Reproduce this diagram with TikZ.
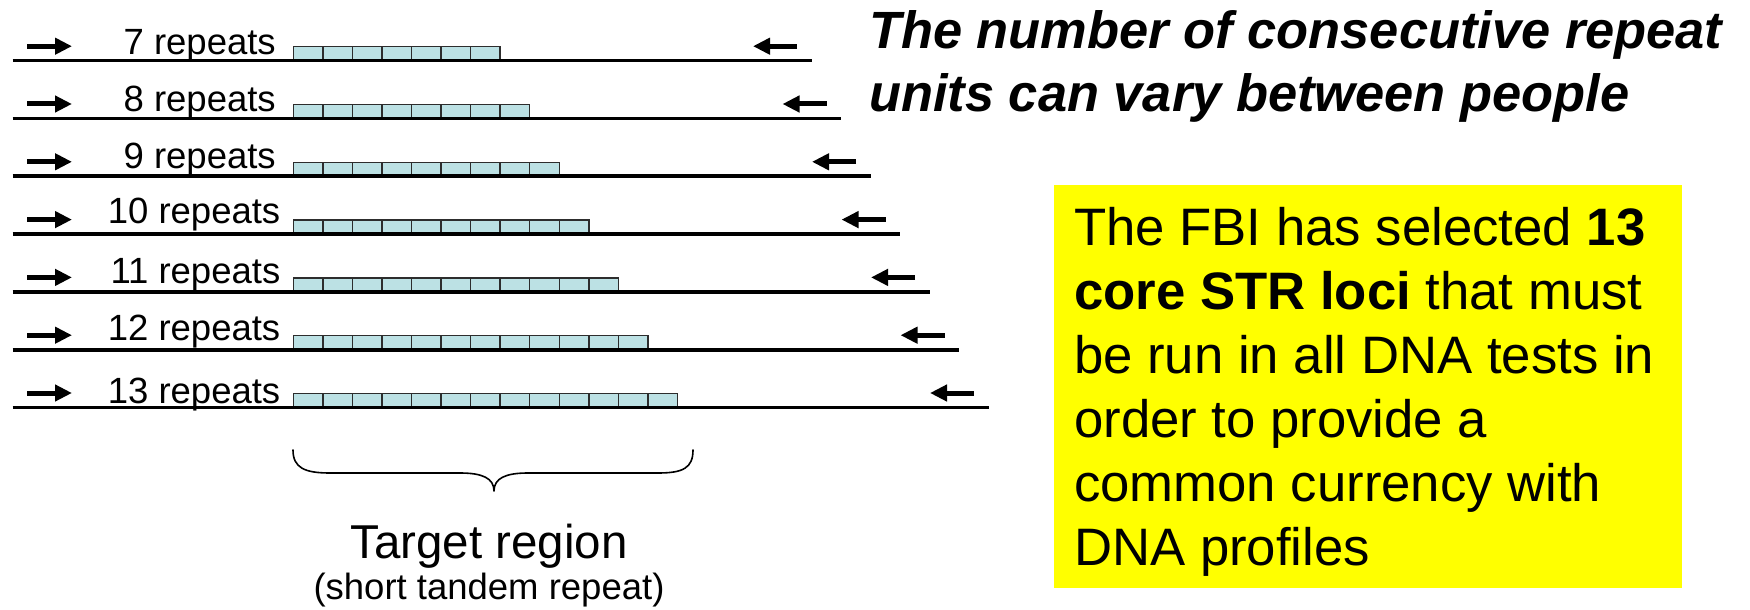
\documentclass[tikz,border=0pt]{standalone}
\usepackage{fontspec}
\setmainfont{Liberation Sans}
\usetikzlibrary{arrows.meta}
\definecolor{unitfill}{RGB}{188,225,228}
\definecolor{unitdraw}{RGB}{45,45,45}
\definecolor{boxyellow}{RGB}{255,255,0}
\begin{document}
\begin{tikzpicture}[x=1bp,y=-1bp,
  dna/.style={line width=3.6bp},
  unit/.style={draw=unitdraw, fill=unitfill, line width=1.4bp},
  primer/.style={line width=5bp, -{Triangle[length=17bp,width=16bp]}},
  lab/.style={inner sep=0pt, anchor=base east, font=\fontsize{36.5bp}{44bp}\selectfont},
  titletext/.style={inner sep=0pt, anchor=base west, font=\fontsize{52.4bp}{63bp}\selectfont\bfseries\itshape},
  fbitext/.style={inner sep=0pt, anchor=base west, font=\fontsize{52.7bp}{63bp}\selectfont},
  bracepath/.style={line width=1.6bp, line cap=round, line join=round}
]
\useasboundingbox (0,0) rectangle (1750,610);

% DNA strands, repeat units and primers
\foreach \i in {0,...,6} {
  \pgfmathsetmacro\ly{60.7+57.8*\i}
  \pgfmathsetmacro\le{811.7+29.5*\i}
  \pgfmathtruncatemacro\n{7+\i}
  \foreach \k in {1,...,\n} {
    \draw[unit] ({293.3+29.55*(\k-1)},\ly-14) rectangle ++(29.55,14);
  }
  \coordinate (s\i) at (12.7,\ly);
  \coordinate (e\i) at (\le,\ly);
  \draw[dna] (s\i) -- (e\i);
  \coordinate (fa\i) at (27,\ly-14.5);
  \coordinate (fb\i) at (72,\ly-14.5);
  \draw[primer] (fa\i) -- (fb\i);
  \coordinate (ra\i) at (\le-14.7,\ly-14.5);
  \coordinate (rb\i) at (\le-58.7,\ly-14.5);
  \draw[primer] (ra\i) -- (rb\i);
}

% labels
\node[lab] (lab7)  at (276,54.3)  {7 repeats};
\node[lab] (lab8)  at (276,111.7) {8 repeats};
\node[lab] (lab9)  at (276,168.3) {9 repeats};
\node[lab] (lab10) at (280.5,224)   {10 repeats};
\node[lab] (lab11) at (280.5,283.3) {11 repeats};
\node[lab] (lab12) at (280.5,340)   {12 repeats};
\node[lab] (lab13) at (280.5,403.3) {13 repeats};

% brace
\coordinate (bl) at (293,450);
\coordinate (br) at (693,450);
\coordinate (tip) at (494,491);
\draw[bracepath] (bl) .. controls (293,468) and (305,473) .. (330,473) -- (460,473)
  .. controls (482,473) and (494,478) .. (tip)
  .. controls (494,478) and (506,473) .. (528,473) -- (658,473)
  .. controls (683,473) and (693,468) .. (br);

\node[inner sep=0pt, anchor=base, font=\fontsize{47.5bp}{56bp}\selectfont] (target) at (489,558) {Target region};
\node[inner sep=0pt, anchor=base, font=\fontsize{36.5bp}{44bp}\selectfont] (str) at (489,599) {(short tandem repeat)};

% title
\node[titletext] (title1) at (869,49) {The number of consecutive repeat};
\node[titletext] (title2) at (869,112) {units can vary between people};

% yellow box
\node[fill=boxyellow, inner sep=0pt, minimum width=628.5bp, minimum height=403bp, anchor=north west] (fbibox) at (1053.5,185) {};
\node[fbitext] (f1) at (1074,246)   {The FBI has selected \textbf{13}};
\node[fbitext] (f2) at (1074,309.8) {\textbf{core STR loci} that must};
\node[fbitext] (f3) at (1074,373.6) {be run in all DNA tests in};
\node[fbitext] (f4) at (1074,437.4) {order to provide a};
\node[fbitext] (f5) at (1074,501.2) {common currency with};
\node[fbitext] (f6) at (1074,565)   {DNA profiles};
\end{tikzpicture}
\end{document}
